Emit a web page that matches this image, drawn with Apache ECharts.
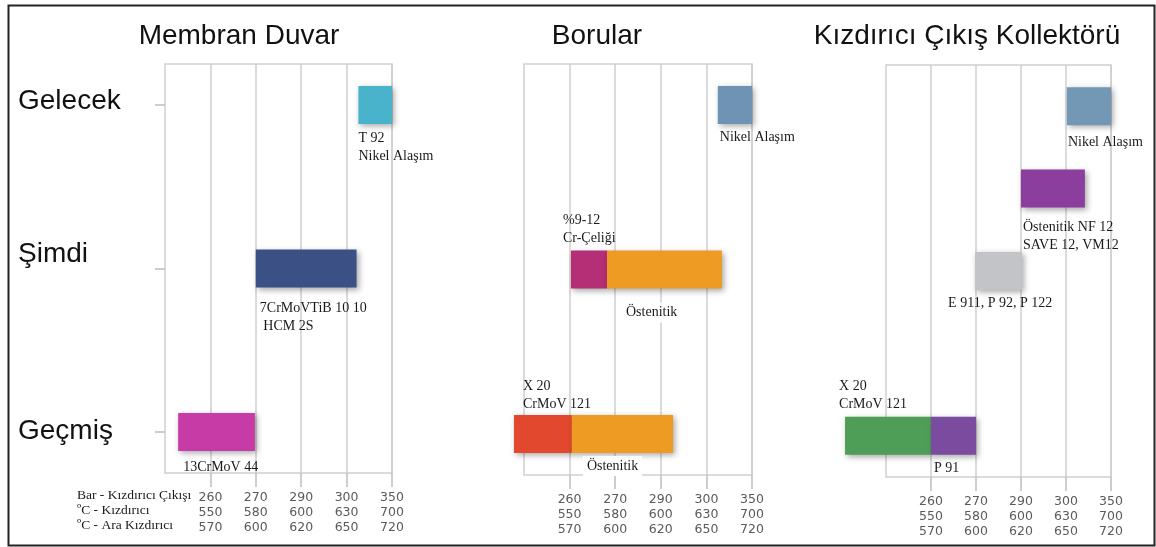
<!DOCTYPE html>
<html><head><meta charset="utf-8">
<script src="https://cdn.jsdelivr.net/npm/echarts@6/dist/echarts.min.js"></script>
<style>html,body{margin:0;padding:0;background:#fff}#c{width:1156px;height:547px}</style>
</head><body><div id="c"></div>
<script>
// ---------- data ----------
const rowNames = ['Gelecek', ' ', 'Şimdi', '  ', 'Geçmiş'];
const barTicks = ['260', '270', '290', '300', '350'];
const kizTicks = ['550', '580', '600', '630', '700'];
const araTicks = ['570', '600', '620', '650', '720'];
const tickPositions = [1, 2, 3, 4, 5];
const panelTitles = ['Membran Duvar', 'Borular', 'Kızdırıcı Çıkış Kollektörü'];
const axisNames = ['Bar - Kızdırıcı Çıkışı', 'ºC - Kızdırıcı', 'ºC - Ara Kızdırıcı'];

// Membran Duvar (row index, start, end in tick units)
const membranRow = [0, 2, 4];
const membranStart = [4.26, 2.0, 0.29];
const membranEnd = [5.0, 4.22, 1.98];
const membranName = ['T 92\nNikel Alaşım', '7CrMoVTiB 10 10\n HCM 2S', '13CrMoV 44'];

// Borular
const boruRow = [0, 2, 2, 4, 4];
const boruStart = [4.25, 1.03, 1.82, -0.22, 1.05];
const boruEnd = [5.0, 1.82, 4.34, 1.05, 3.27];
const boruName = ['Nikel Alaşım', '%9-12\nCr-Çeliği', 'Östenitik', 'X 20\nCrMoV 121', 'Östenitik'];

// Kızdırıcı Çıkış Kollektörü
const kolRow = [0, 1, 2, 4, 4];
const kolStart = [4.02, 3.0, 1.98, -0.91, 1.0];
const kolEnd = [5.0, 4.42, 3.02, 1.0, 2.0];
const kolName = ['Nikel Alaşım', 'Östenitik NF 12\nSAVE 12, VM12', 'E 911, P 92, P 122', 'X 20\nCrMoV 121', 'P 91'];

// ---------- styles / layout ----------
const membranColor = ['#48b3ca', '#3b5186', '#c63ba5'];
const boruColor = ['#6f93b4', '#b52f76', '#ee9b24', '#e2482d', '#ee9b24'];
const kolColor = ['#7398b5', '#8b3e9e', '#c2c4c7', '#4f9e57', '#7a4b9f'];
// [dx, dy, side, whiteBackground]
const membranLabel = [[0, 5, 'below', 0], [4, 12, 'below', 0], [5, 7, 'below', 0]];
const boruLabel = [[2, 4, 'below', 0], [-8, 3, 'above', 0], [15, 14, 'below', 1], [9, 2, 'above', 0], [11, 3, 'below', 1]];
const kolLabel = [[1, 8, 'below', 0], [2, 11, 'below', 0], [-27, 4, 'below', 0], [-6, 3, 'above', 0], [3, 5, 'below', 0]];

const grids = [
  { left: 165, top: 64, width: 227, height: 409 },
  { left: 524, top: 64, width: 228, height: 411 },
  { left: 886, top: 65, width: 225, height: 412 }
];
const titlePos = [234, 592, 962];

const panels = [
  { row: membranRow, start: membranStart, end: membranEnd, name: membranName, color: membranColor, label: membranLabel },
  { row: boruRow, start: boruStart, end: boruEnd, name: boruName, color: boruColor, label: boruLabel },
  { row: kolRow, start: kolStart, end: kolEnd, name: kolName, color: kolColor, label: kolLabel }
];

const BAR_H = 38;
const serif = '"Liberation Serif", "Times New Roman", serif';
const sans = '"Liberation Sans", Arial, sans-serif';

function makeRender(panel) {
  return function (params, api) {
    const i = params.dataIndex;
    const p0 = api.coord([api.value(1), api.value(0)]);
    const p1 = api.coord([api.value(2), api.value(0)]);
    const x = p0[0], w = p1[0] - p0[0], y = p0[1] - BAR_H / 2;
    const lab = panel.label[i];
    const above = lab[2] === 'above';
    const bg = lab[3] === 1;
    return {
      type: 'group',
      children: [
        {
          type: 'rect',
          shape: { x: x, y: y, width: w, height: BAR_H },
          style: { fill: panel.color[i], shadowBlur: 6, shadowColor: 'rgba(0,0,0,0.35)', shadowOffsetX: 2, shadowOffsetY: 2 }
        },
        {
          type: 'text',
          x: x + lab[0],
          y: above ? y - lab[1] : y + BAR_H + lab[1],
          z2: 20,
          style: {
            text: panel.name[i],
            font: '14px ' + serif,
            fill: '#1a1a1a',
            align: 'left',
            verticalAlign: above ? 'bottom' : 'top',
            lineHeight: 18,
            backgroundColor: bg ? '#ffffff' : 'transparent',
            padding: bg ? [1, 4] : 0
          }
        }
      ]
    };
  };
}

// label style keys per row (vertical nudges)
const rowStyleKey = { 'Gelecek': 'g', 'Şimdi': 's', 'Geçmiş': 'p' };
const rowFont = { fontFamily: sans, fontSize: 28, color: '#111' };

const option = {
  animation: false,
  backgroundColor: '#ffffff',
  title: panelTitles.map((t, k) => ({
    text: t,
    left: titlePos[k],
    top: 17,
    textAlign: 'center',
    textStyle: { fontFamily: sans, fontSize: 28, fontWeight: 'normal', color: '#111' }
  })),
  grid: grids.map(g => Object.assign({ show: true, borderColor: '#cfcfcf', borderWidth: 1.5, backgroundColor: 'transparent' }, g)),
  xAxis: grids.map((g, k) => ({
    gridIndex: k,
    type: 'value',
    min: 0,
    max: 5,
    interval: 1,
    axisLine: { show: false },
    axisTick: { show: true, customValues: tickPositions, length: 14, lineStyle: { color: '#bdbdbd', width: 1.5 } },
    axisLabel: {
      customValues: tickPositions,
      margin: 17,
      fontFamily: '"DejaVu Sans", Verdana, sans-serif',
      fontSize: 12.5,
      lineHeight: 15,
      color: '#5a5a5a',
      formatter: v => {
        const i = tickPositions.indexOf(Math.round(v));
        return i < 0 ? '' : barTicks[i] + '\n' + kizTicks[i] + '\n' + araTicks[i];
      }
    },
    splitLine: { show: true, lineStyle: { color: '#cfcfcf', width: 1.5 } }
  })),
  yAxis: grids.map((g, k) => ({
    gridIndex: k,
    type: 'category',
    data: rowNames,
    inverse: true,
    axisLine: { show: false },
    axisTick: {
      show: k === 0, alignWithLabel: true, length: 10,
      interval: (idx, val) => val.trim() !== '',
      lineStyle: { color: '#bdbdbd', width: 1.5 }
    },
    axisLabel: {
      show: k === 0,
      interval: (idx, val) => val.trim() !== '',
      align: 'left',
      margin: 147,
      formatter: v => v.trim() === '' ? '' : '{' + rowStyleKey[v] + '|' + v + '}',
      rich: {
        g: Object.assign({ padding: [0, 0, 8, 0] }, rowFont),
        s: Object.assign({ padding: [0, 0, 28, 0] }, rowFont),
        p: Object.assign({ padding: [0, 0, 2, 0] }, rowFont)
      }
    },
    splitLine: { show: false }
  })),
  series: panels.map((p, k) => ({
    type: 'custom',
    xAxisIndex: k,
    yAxisIndex: k,
    silent: true,
    clip: false,
    encode: { x: [1, 2], y: 0 },
    renderItem: makeRender(p),
    data: p.start.map((s, i) => [p.row[i], s, p.end[i]])
  })),
  graphic: [
    {
      type: 'rect', left: 6, top: 3, z: 100,
      shape: { width: 1146, height: 540 },
      style: { fill: 'none', stroke: '#222', lineWidth: 2 }
    },
    {
      type: 'text', left: 77, top: 488, z: 100,
      style: { text: axisNames.join('\n'), font: '13.5px ' + serif, fill: '#1a1a1a', lineHeight: 15 }
    }
  ]
};

const chart = echarts.init(document.getElementById('c'), null, { renderer: 'canvas' });
chart.setOption(option);
</script>
</body></html>
